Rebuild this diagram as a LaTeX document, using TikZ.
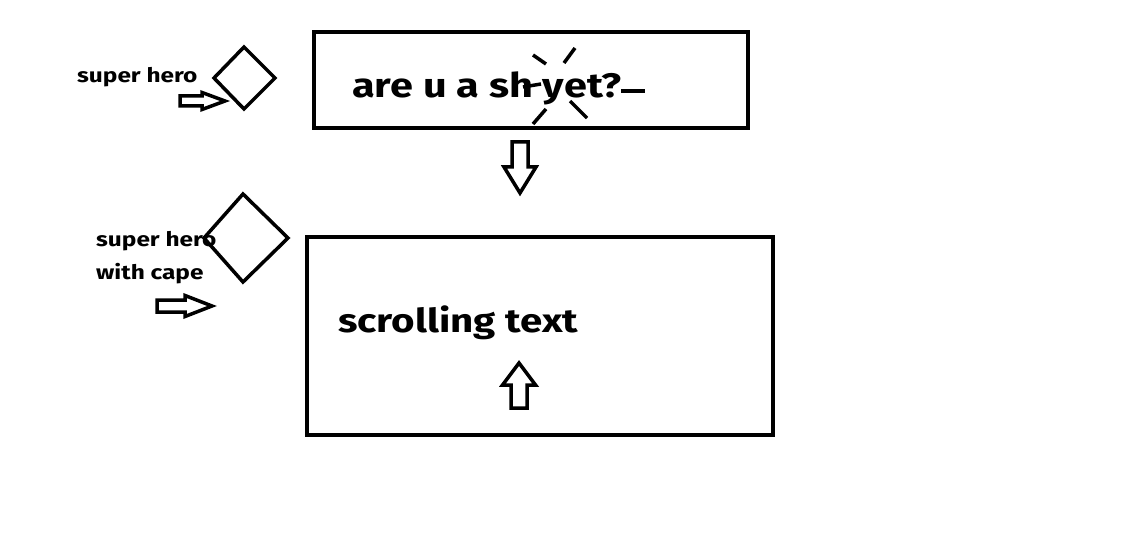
\documentclass[tikz,border=0pt]{standalone}
\usepackage{fontspec}
\setmainfont{Fira Sans}[FakeStretch=1.22]
\begin{document}
\begin{tikzpicture}[x=1pt,y=-1pt,
  box/.style={draw,line width=4pt},
  diam/.style={draw,line width=3.5pt},
  spark/.style={draw,line width=3.5pt},
  arrowline/.style={draw,line width=3.5pt,line join=miter},
  bigtxt/.style={anchor=base west,inner sep=0pt,font=\bfseries\fontsize{33}{36}\selectfont},
  smalltxt/.style={anchor=base west,inner sep=0pt,font=\bfseries\fontsize{20}{24}\selectfont},
  pics/blockarrow/.style n args={4}{code={
    \draw[arrowline] (0,-#2) -- ({#1-#4},-#2) -- ({#1-#4},-#3) -- (#1,0)
      -- ({#1-#4},#3) -- ({#1-#4},#2) -- (0,#2) -- cycle;}}]
\useasboundingbox (0,0) rectangle (1142,540);
% boxes
\draw[box] (314,32) rectangle (748,128);
\draw[box] (307,237) rectangle (773,435);
% texts
\node[bigtxt,font=\bfseries\fontsize{34}{36}\selectfont] (q) at (352,98) {are u a sh yet?};
\node[bigtxt] (s) at (338,332) {scrolling text};
\node[smalltxt] (h1) at (77,83) {super hero};
\node[smalltxt] (h2a) at (96,246) {super hero};
\node[smalltxt] (h2b) at (96,279) {with cape};
% diamonds
\draw[diam] (244,47) -- (275,78) -- (244,109) -- (214,78) -- cycle;
\draw[diam] (243,194) -- (288,238) -- (243,282) -- (204,238) -- cycle;
% sparkle
\draw[spark] (533,55) -- (546,64);
\draw[spark] (564,63) -- (575,48);
\draw[spark] (523,87) -- (541,84);
\draw[spark] (621,91) -- (645,91);
\draw[spark] (533,124) -- (546,109);
\draw[spark] (570,101) -- (587,118);
% block arrows
\pic (a1) at (180,101) {blockarrow={45}{5}{8.5}{23}};
\pic (a2) at (157,306) {blockarrow={55}{6}{10.5}{27}};
\pic[rotate=-90] (a3) at (520,142) {blockarrow={51}{8}{16}{26}};
\pic[rotate=90] (a4) at (519,408) {blockarrow={45}{8}{16.5}{22}};
\end{tikzpicture}
\end{document}
